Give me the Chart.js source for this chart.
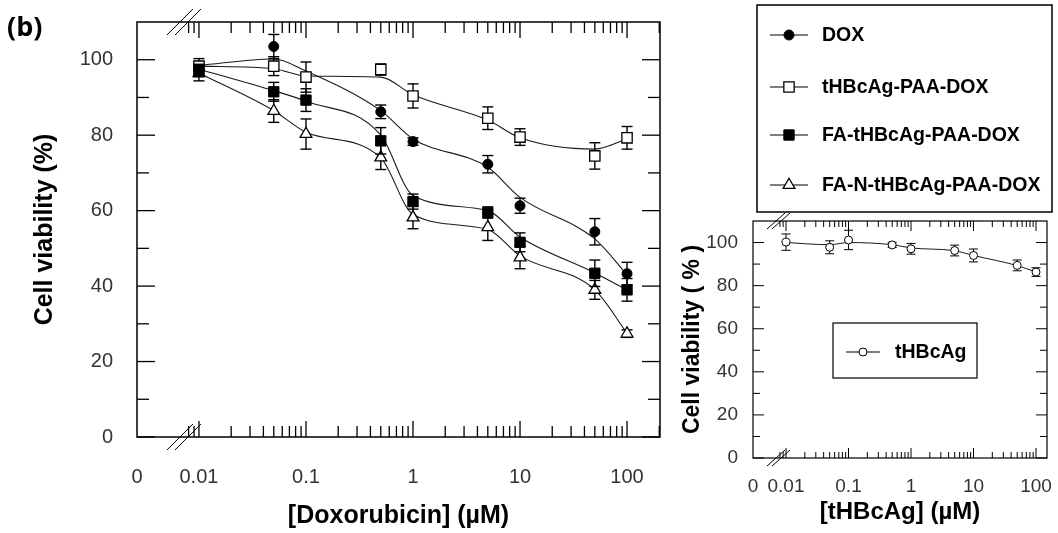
<!DOCTYPE html>
<html><head><meta charset="utf-8">
<script src="https://cdn.jsdelivr.net/npm/chart.js@4/dist/chart.umd.min.js"></script>
<style>
html,body{margin:0;padding:0;background:#fff;}
#wrap{position:relative;width:1058px;height:533px;overflow:hidden;background:#fff;}
#main{position:absolute;left:0;top:0;}
#inset{position:absolute;left:680px;top:213px;}
#lab{position:absolute;left:7px;top:8px;font:bold 27px 'Open Sans',sans-serif;color:#000;line-height:1.3;}
</style></head><body>
<div id="wrap">
<canvas id="main" width="1058" height="533"></canvas>
<canvas id="inset" width="378" height="320"></canvas>
<div id="lab">(b)</div>
</div>
<script>
// ---------- data ----------
const concentrations = [0.01, 0.05, 0.1, 0.5, 1, 5, 10, 50, 100];
const seriesLabels = ['DOX', 'tHBcAg-PAA-DOX', 'FA-tHBcAg-PAA-DOX', 'FA-N-tHBcAg-PAA-DOX'];
const doxMean = [97.5, 103.5, null, 86.2, 78.3, 72.3, 61.3, 54.4, 43.3];
const doxErr  = [2, 3.2, 0, 1.8, 1, 2.3, 2, 3.5, 3];
const doxFit  = [98.5, 100.2, 97, 86.5, 79, 71.5, 63.5, 52.5, 43];
const paaMean = [98.3, 98.3, 95.4, 97.4, 90.4, 84.5, 79.5, 74.5, 79.3];
const paaErr  = [2, 2.5, 4, 1.5, 3.2, 3, 2.2, 3.5, 3];
const paaFit  = [98.3, 97.6, 95.7, 95.4, 90.7, 84, 79.3, 76.3, 79];
const faMean  = [97.3, 91.5, 89.3, 78.5, 62.4, 59.5, 51.6, 43.4, 39.0];
const faErr   = [1.5, 2.5, 3, 3.5, 2, 1.5, 2.5, 3.5, 3];
const faFit   = [97.5, 91.8, 89, 80, 64, 60, 53, 43.5, 39];
const fanMean = [96.4, 86.4, 80.3, 74.1, 58.2, 55.6, 47.6, 39.0, 27.4];
const fanErr  = [2, 3, 4, 3.2, 3, 3.5, 3, 2.5, 1];
const fanFit  = [96.5, 86.5, 80.8, 74, 59, 55, 48, 39, 27.5];

const insetLabel = 'tHBcAg';
const insetMean = [100.2, 97.8, 101.2, 98.9, 97.1, 96.3, 94.0, 89.4, 86.3];
const insetErr  = [3.8, 3, 4.5, 1.2, 2.5, 2.5, 3, 2.5, 2];
const insetFit  = [100, 99, 100, 99, 97.5, 96.2, 94, 89.3, 86.3];

const xTickValues = [0.01, 0.1, 1, 10, 100];
const xTickLabels = ['0.01', '0.1', '1', '10', '100'];
const xZeroLabel = '0';
const yTickValues = [0, 20, 40, 60, 80, 100];
const yMinorValues = [10, 30, 50, 70, 90];

// ---------- helpers ----------
const H = Chart.helpers || {};
function logMinor(from, to) {
  const out = [];
  for (let e = -3; e <= 2; e++) {
    for (let m = 2; m <= 9; m++) {
      const v = m * Math.pow(10, e);
      if (v >= from * 0.999 && v <= to * 1.001) out.push(v);
    }
  }
  return out;
}
function drawMarker(ctx, st, x, y) {
  ctx.save();
  ctx.fillStyle = st.bg; ctx.strokeStyle = st.border; ctx.lineWidth = st.bw;
  if (H.drawPoint) {
    H.drawPoint(ctx, {pointStyle: st.style, radius: st.r, borderWidth: st.bw, rotation: 0}, x, y);
  } else {
    ctx.beginPath();
    if (st.style === 'circle') ctx.arc(x, y, st.r, 0, Math.PI * 2);
    else if (st.style === 'rect') { const s = st.r * Math.SQRT1_2; ctx.rect(x - s, y - s, 2 * s, 2 * s); }
    else { ctx.moveTo(x, y - st.r); ctx.lineTo(x + st.r * 0.866, y + st.r / 2); ctx.lineTo(x - st.r * 0.866, y + st.r / 2); ctx.closePath(); }
    ctx.fill(); ctx.stroke();
  }
  ctx.restore();
}
function seg(ctx, x1, y1, x2, y2) { ctx.beginPath(); ctx.moveTo(x1, y1); ctx.lineTo(x2, y2); ctx.stroke(); }

// error bars drawn just before each marker dataset
const errorBarPlugin = {
  id: 'errorBars',
  beforeDatasetDraw(chart, args, opts) {
    const ds = chart.data.datasets[args.index];
    if (!ds.errors) return;
    const ctx = chart.ctx, ys = chart.scales.y;
    ctx.save();
    ctx.strokeStyle = '#000'; ctx.lineWidth = opts.lineWidth || 1.3;
    const cw = opts.cap || 5;
    args.meta.data.forEach((el, i) => {
      const p = ds.data[i];
      if (!p || p.y === null || p.y === undefined) return;
      const e = ds.errors[i];
      const yT = ys.getPixelForValue(p.y + e), yB = ys.getPixelForValue(p.y - e);
      seg(ctx, el.x, yT, el.x, yB);
      seg(ctx, el.x - cw, yT, el.x + cw, yT);
      seg(ctx, el.x - cw, yB, el.x + cw, yB);
    });
    ctx.restore();
  }
};

// frame: box, inward ticks on all sides, axis break marks
const framePlugin = {
  id: 'frame',
  afterDatasetsDraw(chart, args, o) {
    const ctx = chart.ctx, {left, right, top, bottom} = chart.chartArea;
    const xs = chart.scales.x, ys = chart.scales.y;
    ctx.save();
    ctx.strokeStyle = '#000'; ctx.lineWidth = o.lw;
    ctx.strokeRect(left, top, right - left, bottom - top);
    ctx.lineWidth = o.tickLw;
    xTickValues.forEach(v => { const px = xs.getPixelForValue(v);
      seg(ctx, px, bottom, px, bottom - o.xMaj); seg(ctx, px, top, px, top + o.xMaj); });
    logMinor(o.minorFrom, xs.max).forEach(v => { const px = xs.getPixelForValue(v);
      seg(ctx, px, bottom, px, bottom - o.xMin); seg(ctx, px, top, px, top + o.xMin); });
    yTickValues.forEach(v => { const py = ys.getPixelForValue(v);
      seg(ctx, left, py, left + o.yMaj, py); seg(ctx, right, py, right - o.yMaj, py); });
    yMinorValues.forEach(v => { const py = ys.getPixelForValue(v);
      seg(ctx, left, py, left + o.yMin, py); seg(ctx, right, py, right - o.yMin, py); });
    // break marks near first decade
    ctx.lineWidth = 1;
    const bx = xs.getPixelForValue(xTickValues[0]);
    o.breakOffsets.forEach(dx => {
      [top, bottom].forEach(ay => {
        seg(ctx, bx + dx - o.bw, ay + o.bh, bx + dx + o.bw, ay - o.bh);
      });
    });
    ctx.restore();
  }
};

// boxed legend drawn from the marker datasets
const boxLegendPlugin = {
  id: 'boxLegend',
  afterDraw(chart, args, o) {
    if (!o.box) return;
    const ctx = chart.ctx;
    ctx.save();
    ctx.strokeStyle = '#000'; ctx.lineWidth = o.lw;
    ctx.strokeRect(o.box[0], o.box[1], o.box[2] - o.box[0], o.box[3] - o.box[1]);
    const sets = chart.data.datasets.filter(d => d.errors);
    sets.forEach((d, i) => {
      const y = o.rows[i];
      ctx.strokeStyle = '#000'; ctx.lineWidth = 1.2;
      seg(ctx, o.line[0], y, o.line[1], y);
      drawMarker(ctx, d.marker, (o.line[0] + o.line[1]) / 2, y);
      ctx.fillStyle = '#000';
      ctx.font = o.font;
      ctx.textBaseline = 'middle'; ctx.textAlign = 'left';
      ctx.fillText(d.label, o.textX, y + 1);
    });
    ctx.restore();
  }
};

Chart.register(errorBarPlugin, framePlugin, boxLegendPlugin);

const FONT = "'Liberation Sans', Arial, sans-serif";
const markerStyles = [
  {style: 'circle', r: 5, bg: '#000', border: '#000', bw: 1},
  {style: 'rect', r: 7.3, bg: '#fff', border: '#000', bw: 1.3},
  {style: 'rect', r: 7.3, bg: '#000', border: '#000', bw: 1},
  {style: 'triangle', r: 6.8, bg: '#fff', border: '#000', bw: 1.3}
];
const means = [doxMean, paaMean, faMean, fanMean];
const errs = [doxErr, paaErr, faErr, fanErr];
const fits = [doxFit, paaFit, faFit, fanFit];
const drawOrder = [3, 2, 0, 1];

function toPoints(vals) { return concentrations.map((c, j) => ({x: c, y: vals[j]})); }

const mainSets = [];
seriesLabels.forEach((lab, i) => {
  const st = markerStyles[i];
  mainSets.push({
    label: lab, data: toPoints(means[i]), errors: errs[i], marker: st,
    showLine: false, order: drawOrder[i],
    pointStyle: st.style, pointRadius: st.r, pointBackgroundColor: st.bg,
    pointBorderColor: st.border, pointBorderWidth: st.bw, pointHoverRadius: st.r
  });
});
seriesLabels.forEach((lab, i) => {
  mainSets.push({
    label: lab + ' fit', data: toPoints(fits[i]), order: 10,
    borderColor: '#1a1a1a', borderWidth: 1.1, pointRadius: 0,
    cubicInterpolationMode: 'monotone', fill: false
  });
});

function noPad(s) { s.paddingTop = 0; s.paddingBottom = 0; s.paddingLeft = 0; s.paddingRight = 0; }

function axisOpts(cfg) {
  return {
    x: {
      type: 'logarithmic', bounds: 'data',
      min: Math.pow(10, cfg.xLogMin), max: Math.pow(10, cfg.xLogMax),
      afterBuildTicks: s => { s.ticks = [{value: s.min}].concat(xTickValues.map(v => ({value: v}))); },
      afterFit: s => { s.height = cfg.xHeight; noPad(s); },
      grid: {display: false, drawTicks: false}, border: {display: false},
      ticks: {autoSkip: false, maxRotation: 0, padding: cfg.xPad, color: '#333',
        font: {family: FONT, size: cfg.tickSize},
        callback: (v, i) => i === 0 ? xZeroLabel : xTickLabels[i - 1]},
      title: {display: true, text: cfg.xTitle, color: '#000',
        font: {family: FONT, size: cfg.titleSize, weight: 'bold', lineHeight: 1},
        padding: {top: 0, bottom: cfg.xTitlePad}}
    },
    y: {
      type: 'linear', bounds: 'data', min: 0, max: 110,
      afterBuildTicks: s => { s.ticks = yTickValues.map(v => ({value: v})); },
      afterFit: s => { s.width = cfg.yWidth; noPad(s); },
      grid: {display: false, drawTicks: false}, border: {display: false},
      ticks: {padding: cfg.yPad, color: '#333', font: {family: FONT, size: cfg.yTickSize || cfg.tickSize}},
      title: {display: true, text: cfg.yTitle, color: '#000',
        font: {family: FONT, size: cfg.yTitleSize || cfg.titleSize, weight: 'bold', lineHeight: 1},
        padding: {top: cfg.yTitlePad, bottom: 0}}
    }
  };
}

new Chart(document.getElementById('main'), {
  type: 'line',
  data: {datasets: mainSets},
  options: {
    responsive: false, animation: false, events: [],
    layout: {padding: {left: 0, top: 22, right: 398, bottom: 0}},
    scales: axisOpts({xLogMin: -2.579, xLogMax: 2.308, xHeight: 96, xPad: 28, tickSize: 20,
      titleSize: 25, xTitlePad: 4, yWidth: 137, yPad: 24, yTitlePad: 33,
      xTitle: '[Doxorubicin] (µM)', yTitle: 'Cell viability (%)'}),
    plugins: {
      legend: {display: false}, tooltip: {enabled: false},
      errorBars: {lineWidth: 1.4, cap: 5.5},
      frame: {lw: 1.5, tickLw: 1.3, xMaj: 16, xMin: 11, yMaj: 18, yMin: 12, minorFrom: 0.008,
        breakOffsets: [-19, -11], bw: 13, bh: 13},
      boxLegend: {box: [757, 5, 1052, 212], lw: 1.5, rows: [35, 87, 135, 185], line: [770, 808], textX: 822,
        font: 'bold 19.5px ' + FONT}
    }
  }
});

// ---------- inset ----------
const insetStyle = {style: 'circle', r: 4, bg: '#fff', border: '#000', bw: 1};
new Chart(document.getElementById('inset'), {
  type: 'line',
  data: {datasets: [
    {label: insetLabel, data: toPoints(insetMean), errors: insetErr, marker: insetStyle, showLine: false, order: 0,
      pointStyle: 'circle', pointRadius: 4, pointBackgroundColor: '#fff', pointBorderColor: '#000', pointBorderWidth: 1},
    {label: insetLabel + ' fit', data: toPoints(insetFit), order: 5, borderColor: '#1a1a1a', borderWidth: 1,
      pointRadius: 0, cubicInterpolationMode: 'monotone', fill: false}
  ]},
  options: {
    responsive: false, animation: false, events: [],
    layout: {padding: {left: 0, top: 8, right: 11, bottom: 0}},
    scales: axisOpts({xLogMin: -2.528, xLogMax: 2.176, xHeight: 75, xPad: 17, tickSize: 19, yTickSize: 19,
      titleSize: 24, yTitleSize: 23, xTitlePad: 9, yWidth: 73, yPad: 15, yTitlePad: 1,
      xTitle: '[tHBcAg] (µM)', yTitle: 'Cell viability ( % )'}),
    plugins: {
      legend: {display: false}, tooltip: {enabled: false},
      errorBars: {lineWidth: 1, cap: 4.5},
      frame: {lw: 1.2, tickLw: 1, xMaj: 10, xMin: 6, yMaj: 11, yMin: 7, minorFrom: 0.008,
        breakOffsets: [-10, -5], bw: 9, bh: 8},
      boxLegend: {box: [153, 110, 297, 165], lw: 1.2, rows: [139], line: [166, 200], textX: 215,
        font: 'bold 19.5px ' + FONT}
    }
  }
});
</script>
</body></html>
